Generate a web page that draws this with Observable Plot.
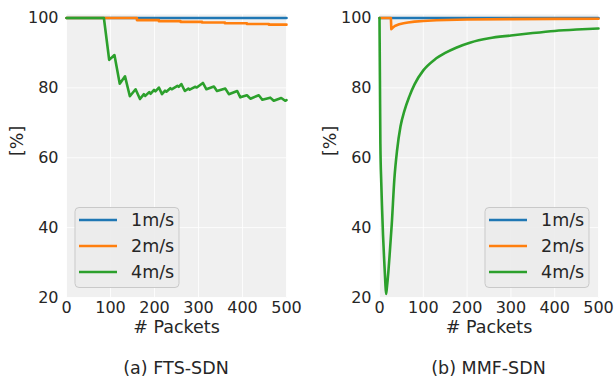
<!DOCTYPE html>
<html>
<head>
<meta charset="utf-8">
<script src="https://cdn.jsdelivr.net/npm/d3@7"></script>
<script src="https://cdn.jsdelivr.net/npm/@observablehq/plot@0.6"></script>
<style>
  body { margin: 0; background: #fff; }
  #fig { position: relative; width: 616px; height: 379px; font-family: "DejaVu Sans", sans-serif; color: #262626; }
  .panel { position: absolute; top: 0; }
  .caption { position: absolute; top: 357px; width: 220px; text-align: center; font-size: 17.5px; line-height: 22px; }
</style>
</head>
<body>
<div id="fig"></div>
<script>
// Legend entries and series colours (tab10)
const speeds = ["1m/s", "2m/s", "4m/s"];
const colors = ["#1f77b4", "#ff7f0e", "#2ca02c"];
const xTicks = [0, 100, 200, 300, 400, 500];
const yTicks = [20, 40, 60, 80, 100];
const captions = ["(a) FTS-SDN", "(b) MMF-SDN"];

// FTS-SDN: delivery ratio [%] vs. number of packets
const ftsBlue = [[0, 100], [500, 100]];
const ftsOrange = [[0, 100], [160, 99.4], [210, 99.1], [259, 98.9], [308, 98.7], [360, 98.5], [410, 98.3], [460, 98.1], [500, 98.1]];
const ftsGreen = [
  [0, 100], [85, 100], [97, 88], [109, 89.4], [121, 81.2], [133, 83.3], [144, 77.6], [157, 79.6],
  [167, 76.8], [176, 78.2], [179, 77.7], [188, 78.8], [191, 78.3], [199, 79.4], [202, 79], [210, 80.1],
  [217, 78.2], [224, 79.2], [227, 78.9], [236, 79.9], [239, 79.6], [252, 80.6], [255, 80.3], [261, 81.1],
  [269, 79.1], [277, 79.8], [280, 79.5], [292, 80.3], [296, 80.1], [310, 81.4], [318, 79.6], [335, 80.4],
  [342, 79.1], [361, 79.8], [369, 78.2], [388, 79.1], [395, 77.3], [410, 77.9], [418, 76.9], [437, 77.9],
  [445, 76.6], [463, 77.2], [471, 76.3], [488, 77.1], [497, 76.3], [500, 76.5]
];

// MMF-SDN: delivery ratio [%] vs. number of packets
const mmfBlue = [[0, 100], [500, 100]];
const mmfOrange = [
  [0, 100], [26, 100], [27, 96.8], [30, 97.2], [35, 97.7], [45, 98.2], [55, 98.5], [65, 98.7],
  [80, 98.95], [100, 99.15], [130, 99.35], [200, 99.55], [300, 99.68], [400, 99.74], [500, 99.78]
];
const mmfGreen = [
  [0, 100], [1, 82], [2, 64], [4, 53], [6, 45], [8, 38], [11, 30], [13, 25], [15, 21], [17, 23],
  [20, 27], [23, 32], [28, 41], [34, 54], [40, 62], [48, 69], [57, 73.5], [68, 77.5], [80, 81],
  [100, 85], [125, 88], [150, 90], [175, 91.5], [208, 93], [250, 94.2], [300, 95], [350, 95.7],
  [400, 96.3], [450, 96.7], [500, 97]
];

function panel({series, curves, marginLeft, marginRight, legendX}) {
  const lines = series.map((s, i) =>
    Plot.line(s, {x: d => d[0], y: d => d[1], stroke: colors[i], strokeWidth: 2.6, curve: curves[i]})
  );
  const svg = Plot.plot({
    width: 308,
    height: 342,
    marginTop: 14,
    marginBottom: 45,
    marginLeft,
    marginRight,
    x: {domain: [0, 500], ticks: xTicks},
    y: {domain: [20, 101], ticks: yTicks},
    style: {fontFamily: "DejaVu Sans", fontSize: "16px", color: "#262626", background: "transparent", overflow: "visible"},
    marks: [
      Plot.frame({fill: "#f0f0f0", stroke: "none"}),
      Plot.gridX({ticks: xTicks, stroke: "#ffffff", strokeOpacity: 0.8, strokeWidth: 1}),
      Plot.gridY({ticks: yTicks, stroke: "#ffffff", strokeOpacity: 0.8, strokeWidth: 1}),
      Plot.axisX({ticks: xTicks, tickSize: 0, tickPadding: 4, label: null, fontSize: 16}),
      Plot.axisY({ticks: yTicks, tickSize: 0, tickPadding: 8, label: null, fontSize: 16}),
      ...lines,
      Plot.text(["# Packets"], {text: d => d, frameAnchor: "bottom", dy: 35, fontSize: 17.5, fill: "#262626"}),
      Plot.text(["[%]"], {text: d => d, frameAnchor: "left", dx: -49, rotate: -90, fontSize: 17.5, fill: "#262626"})
    ]
  });

  // legend box
  const g = d3.select(svg).append("g").attr("text-anchor", "start");
  const bx = legendX, by = 207.5, bw = 104, bh = 80;
  g.append("rect")
    .attr("x", bx).attr("y", by).attr("width", bw).attr("height", bh)
    .attr("rx", 4).attr("fill", "#ebebeb").attr("fill-opacity", 0.9)
    .attr("stroke", "#c9c9c9").attr("stroke-width", 1);
  speeds.forEach((name, i) => {
    const y = by + 12.5 + i * 26;
    g.append("line")
      .attr("x1", bx + 4).attr("x2", bx + 42).attr("y1", y).attr("y2", y)
      .attr("stroke", colors[i]).attr("stroke-width", 2.6);
    g.append("text")
      .attr("x", bx + 56).attr("y", y).attr("dy", "0.36em")
      .attr("text-anchor", "start")
      .attr("font-size", 17.5).attr("fill", "#262626").text(name);
  });
  return svg;
}

const fig = document.getElementById("fig");

const left = panel({
  series: [ftsBlue, ftsOrange, ftsGreen],
  curves: ["linear", "step-after", "linear"],
  marginLeft: 66, marginRight: 22, legendX: 75
});
left.classList.add("panel");
left.style.left = "0px";
fig.appendChild(left);

const right = panel({
  series: [mmfBlue, mmfOrange, mmfGreen],
  curves: ["linear", "linear", "monotone-x"],
  marginLeft: 71, marginRight: 18, legendX: 177
});
right.classList.add("panel");
right.style.left = "308px";
fig.appendChild(right);

[176, 488.5].forEach((cx, i) => {
  const c = document.createElement("div");
  c.className = "caption";
  c.style.left = (cx - 110) + "px";
  c.textContent = captions[i];
  fig.appendChild(c);
});
</script>
</body>
</html>
